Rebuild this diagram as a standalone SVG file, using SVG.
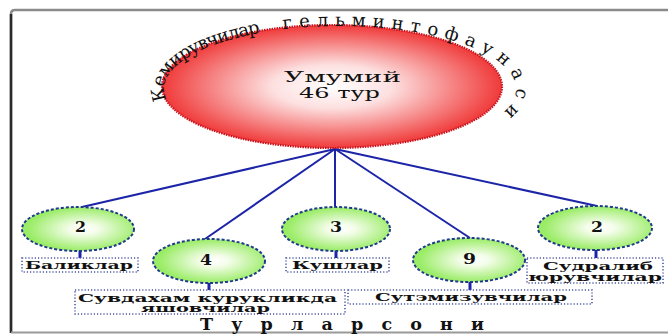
<svg xmlns="http://www.w3.org/2000/svg" width="668" height="334" viewBox="0 0 668 334">
<defs>
<radialGradient id="red" cx="50%" cy="50%" r="50%">
<stop offset="0" stop-color="#ffffff"/>
<stop offset="0.35" stop-color="#fde0e0"/>
<stop offset="1" stop-color="#f03a3a"/>
</radialGradient>
<radialGradient id="green" cx="55%" cy="50%" r="50%">
<stop offset="0" stop-color="#ffffff"/>
<stop offset="0.25" stop-color="#f4fdea"/>
<stop offset="1" stop-color="#9aec66"/>
</radialGradient>
<path id="arc" d="M 166.7,99.9 A 176,63 0 1 1 484.2,125.1"/>
<style>
.gnode{fill:url(#green);stroke:#1f3a8a;stroke-width:2;stroke-dasharray:3 2}
.box{fill:#fff;stroke:#4a57a0;stroke-width:1.6;stroke-dasharray:1.2 2}
.con{stroke:#1c24a8;stroke-width:2;fill:none}
.stub{stroke:#1c24a8;stroke-width:3}
</style>
</defs>
<rect width="668" height="334" fill="#fff"/>
<g id="frame" fill="none">
<path d="M 11,333 L 11,14 Q 11,10 15,10 L 668,10" stroke="#8a8a8a" stroke-width="2.5"/>
<path d="M 11,333 L 11,14" stroke="#2a2a2a" stroke-width="2.5"/>
<path d="M 11,332.5 L 668,332.5" stroke="#9a9a9a" stroke-width="2"/>
</g>
<g id="connectors">
<line class="con" x1="335" y1="149" x2="82" y2="207"/>
<line class="con" x1="335" y1="149" x2="205" y2="239"/>
<line class="con" x1="335" y1="149" x2="335" y2="207" stroke-width="3"/>
<line class="con" x1="335" y1="149" x2="470" y2="238"/>
<line class="con" x1="335" y1="149" x2="597" y2="206"/>
<line class="stub" x1="80" y1="250" x2="80" y2="258"/>
<line class="stub" x1="209" y1="282" x2="209" y2="290"/>
<line class="stub" x1="336" y1="250" x2="336" y2="258"/>
<line class="stub" x1="470" y1="281" x2="470" y2="290"/>
<line class="stub" x1="596" y1="249" x2="596" y2="258"/>
</g>
<g font-family="DejaVu Serif, Liberation Serif, serif" fill="#111">
<g id="main">
<ellipse cx="332" cy="86.5" rx="170" ry="61.5" fill="url(#red)" stroke="#c8141e" stroke-width="2.2" stroke-dasharray="1.5 1"/>
<text x="342.5" y="81.5" font-size="15" text-anchor="middle" textLength="117" lengthAdjust="spacingAndGlyphs">Умумий</text>
<text x="339.5" y="97.5" font-size="15" text-anchor="middle" textLength="81" lengthAdjust="spacingAndGlyphs">46 тур</text>
<text font-size="18"><textPath href="#arc" startOffset="0"><tspan letter-spacing="-1">Кемирувчилар</tspan><tspan dx="24" letter-spacing="6.8">гельминтофаунаси</tspan></textPath></text>
</g>
<g font-weight="bold">
<g id="n1">
<ellipse class="gnode" cx="78" cy="229" rx="56" ry="22"/>
<text x="80.5" y="232" font-size="15" text-anchor="middle" textLength="11" lengthAdjust="spacingAndGlyphs">2</text>
</g>
<g id="n2">
<ellipse class="gnode" cx="209" cy="261" rx="56" ry="22"/>
<text x="206" y="265" font-size="15" text-anchor="middle" textLength="12" lengthAdjust="spacingAndGlyphs">4</text>
</g>
<g id="n3">
<ellipse class="gnode" cx="336" cy="229" rx="54" ry="22"/>
<text x="336" y="232" font-size="15" text-anchor="middle" textLength="12" lengthAdjust="spacingAndGlyphs">3</text>
</g>
<g id="n4">
<ellipse class="gnode" cx="469" cy="260" rx="56" ry="22"/>
<text x="469.5" y="264" font-size="15" text-anchor="middle" textLength="13" lengthAdjust="spacingAndGlyphs">9</text>
</g>
<g id="n5">
<ellipse class="gnode" cx="595" cy="228" rx="57" ry="22"/>
<text x="597" y="231.5" font-size="15" text-anchor="middle" textLength="12" lengthAdjust="spacingAndGlyphs">2</text>
</g>
<g id="l1">
<rect class="box" x="22" y="258" width="116" height="14"/>
<text x="25" y="269" font-size="11.5" textLength="108" lengthAdjust="spacingAndGlyphs">Баликлар</text>
</g>
<g id="l2">
<rect class="box" x="75" y="290" width="270" height="24"/>
<text x="78" y="301.5" font-size="11" textLength="259" lengthAdjust="spacingAndGlyphs">Сувдахам курукликда</text>
<text x="141" y="311.5" font-size="11" textLength="129" lengthAdjust="spacingAndGlyphs">яшовчилар</text>
</g>
<g id="l3">
<rect class="box" x="286" y="258" width="103" height="14"/>
<text x="292" y="269" font-size="11.5" textLength="91" lengthAdjust="spacingAndGlyphs">Кушлар</text>
</g>
<g id="l4">
<rect class="box" x="348" y="290" width="244" height="14"/>
<text x="375" y="301" font-size="11.5" textLength="192" lengthAdjust="spacingAndGlyphs">Сутэмизувчилар</text>
</g>
<g id="l5">
<rect class="box" x="527" y="258" width="136" height="25"/>
<text x="543" y="269.5" font-size="11" textLength="110" lengthAdjust="spacingAndGlyphs">Судралиб</text>
<text x="528" y="280.5" font-size="11" textLength="134" lengthAdjust="spacingAndGlyphs">юрувчилар</text>
</g>
<g id="title">
<text x="200" y="330" font-size="17.5" textLength="284" lengthAdjust="spacing">Т у р л а р   с о н и</text>
</g>
</g>
</g>
</svg>
